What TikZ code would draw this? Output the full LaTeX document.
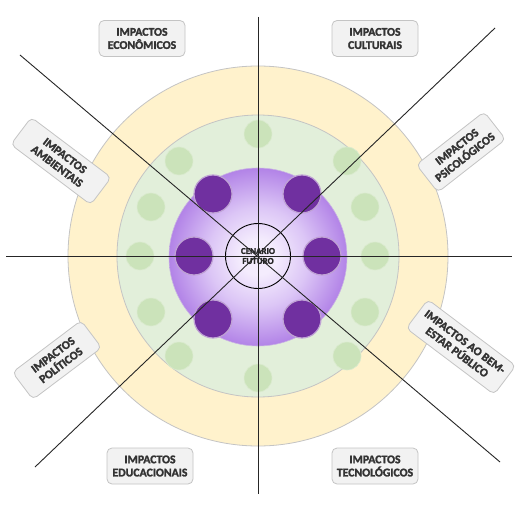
\documentclass[tikz,border=0pt]{standalone}
\usepackage{fontspec}
\setmainfont{Carlito}
\newfontfamily\labfont{Carlito}[FakeBold=2]
\definecolor{purpin}{HTML}{F4ECFD}
\definecolor{purpmid}{HTML}{DCC6F6}
\definecolor{purpout}{HTML}{B283E7}
\definecolor{purpedge}{HTML}{C9B3E3}
\definecolor{ringyellow}{HTML}{FFF2CC}
\definecolor{ringgreen}{HTML}{E2EFDA}
\definecolor{smallgreen}{HTML}{CBE3BA}
\definecolor{darkpurple}{HTML}{7030A0}
\definecolor{labfill}{HTML}{F2F2F2}
\definecolor{labdraw}{HTML}{C4C4C4}
\definecolor{labtext}{HTML}{333333}
\definecolor{linecol}{HTML}{262626}
\pgfdeclareradialshading{purpshade}{\pgfpoint{0bp}{0bp}}{color(0bp)=(purpin); color(5bp)=(purpin); color(14bp)=(purpmid); color(25bp)=(purpout); color(50bp)=(purpout)}
\begin{document}
\begin{tikzpicture}[x=1bp,y=-1bp,
  greendot/.style={circle,fill=smallgreen,draw=smallgreen!70!white,line width=0.6bp,minimum size=28bp,inner sep=0pt},
  purpdot/.style={circle,fill=darkpurple,draw=darkpurple!45!white,line width=1.2bp,minimum size=38bp,inner sep=0pt},
  axis/.style={draw=linecol,line width=0.9bp},
  label/.style={rounded corners=5bp,fill=labfill,draw=labdraw,line width=0.8bp,text=labtext,font=\labfont\bfseries\fontsize{11.8}{13.2}\selectfont,align=center,inner sep=1bp,minimum height=36bp}
]
\useasboundingbox (0,0) rectangle (520,506);
\fill[white] (0,0) rectangle (520,506);
% rings
\node[circle,fill=ringyellow,draw=labdraw,line width=0.8bp,minimum size=380bp,inner sep=0pt] (outer) at (258,256) {};
\node[circle,fill=ringgreen,draw=labdraw,line width=0.8bp,minimum size=282bp,inner sep=0pt] (mid) at (258,256) {};
% green dots
\node[greendot] (g1) at (258,134) {};
\node[greendot] (g2) at (347,161) {};
\node[greendot] (g3) at (365,207) {};
\node[greendot] (g4) at (375,256) {};
\node[greendot] (g5) at (365,312) {};
\node[greendot] (g6) at (347,356) {};
\node[greendot] (g7) at (258,378) {};
\node[greendot] (g8) at (179,356) {};
\node[greendot] (g9) at (151,312) {};
\node[greendot] (g10) at (140,256) {};
\node[greendot] (g11) at (151,207) {};
\node[greendot] (g12) at (179,161) {};
% purple disc
\node[circle,shading=purpshade,draw=purpedge,line width=0.6bp,minimum size=178bp,inner sep=0pt] (inner) at (258,257) {};
\node[purpdot] (p1) at (213,194) {};
\node[purpdot] (p2) at (302,194) {};
\node[purpdot] (p3) at (322,256) {};
\node[purpdot] (p4) at (302,319) {};
\node[purpdot] (p5) at (213,319) {};
\node[purpdot] (p6) at (194,256) {};
% center
\node[circle,draw=black,line width=0.9bp,minimum size=65bp,inner sep=0pt] (core) at (258,256) {};
% axes
\coordinate (vt) at (258,17);
\coordinate (vb) at (258,494);
\coordinate (hl) at (6,256);
\coordinate (hr) at (512,256);
\coordinate (d1a) at (20,55);
\coordinate (d1b) at (500,462);
\coordinate (d2a) at (495,28);
\coordinate (d2b) at (35,467);
\draw[axis] (vt) -- (vb);
\draw[axis] (hl) -- (hr);
\draw[axis] (d1a) -- (d1b);
\draw[axis] (d2a) -- (d2b);
\node[font=\labfont\bfseries\fontsize{9}{10}\selectfont,text=linecol,align=center,inner sep=0pt] (ctext) at (core.center) {CENARIO\\FUTURO};
% labels
\node[label,minimum width=86bp] (econ) at (142,38.5) {IMPACTOS\\ECONÔMICOS};
\node[label,minimum width=86bp] (cult) at (375,38.5) {IMPACTOS\\CULTURAIS};
\node[label,minimum width=86bp] (educ) at (150,466) {IMPACTOS\\EDUCACIONAIS};
\node[label,minimum width=86bp] (tecn) at (375,466) {IMPACTOS\\TECNOLÓGICOS};
\node[label,minimum width=100bp,minimum height=34bp,rotate=-37] (amb) at (61,161) {IMPACTOS\\AMBIENTAIS};
\node[label,minimum width=86bp,minimum height=35bp,rotate=38] (psi) at (461,152) {IMPACTOS\\PSICOLÓGICOS};
\node[label,minimum width=110bp,minimum height=36bp,rotate=-37] (bem) at (461,347) {IMPACTOS AO BEM-\\ESTAR PÚBLICO};
\node[label,minimum width=86bp,minimum height=34bp,rotate=37] (pol) at (57,360) {IMPACTOS\\POLÍTICOS};
\end{tikzpicture}
\end{document}
